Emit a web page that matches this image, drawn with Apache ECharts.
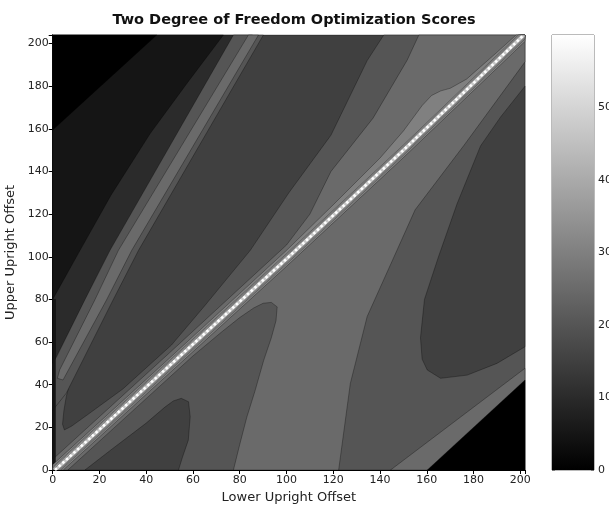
<!DOCTYPE html>
<html><head><meta charset="utf-8">
<script src="https://cdn.jsdelivr.net/npm/echarts@6/dist/echarts.min.js"></script>
<style>html,body{margin:0;padding:0;background:#fff}#c{width:609px;height:506px}</style>
</head><body><div id="c"></div>
<script>
// ---- chart text ----
const chartTitle = 'Two Degree of Freedom Optimization Scores';
const xName = 'Lower Upright Offset';
const yName = 'Upper Upright Offset';
// ---- axes ----
const xRange = [0, 202];
const yRange = [0, 204];
const tickStep = 20;
const scoreRange = [0, 60];
const scoreTickStep = 10;

// ---- contour regions (outline vertices [lower offset, upper offset]) ----
const plotFrame = [[0,0],[202,0],[202,204],[0,204]];
const midBand = [[141.6,204],[134.5,192],[119,157],[101,130],[84.5,103],[65,77],[50.8,58.6],[30,38],[15,26],[8,20.5],[5,18.8],[4.2,21.5],[4.8,28],[5.8,34.4],[8,44],[0,44],[0,0],[202,0],[202,204]];
const ridgeShoulder = [[0,5],[50,55],[100,105.5],[110,120],[119,140],[137,165],[151.6,192.2],[156.6,204],[202,204],[202,191.4],[176,152.4],[155,122],[146,100],[134.5,72],[127.3,40.6],[122.3,0],[0,0]];
const lowerFinger = [[6.5,0],[30,23.5],[60,53.5],[72,64.5],[80,71.5],[86,76],[90,78.2],[93.5,78.6],[96,76.5],[95.5,70],[93.5,62],[90.2,51.3],[86.5,37],[83,24.7],[80,12],[77.3,0]];
const lowerPocket = [[13.8,0],[25,9.5],[40,22],[48,29.5],[51.6,32.4],[55,33.6],[58.1,32],[58.8,25],[58,14],[55.5,6],[53.8,0]];
const rightPocket = [[202,57.8],[190,50],[177.3,44.5],[165.9,43],[160.2,46.9],[158,52],[157.3,62],[159,80],[165,100],[173,125],[183,152],[191.6,165.6],[202,180]];
const cornerRim = [[144.5,0],[202,47.7],[202,0]];
const cornerLow = [[160.2,0],[202,42.2],[202,0]];
const upperLeftBand = [[0,41],[30.5,103],[85.5,204],[0,204]];
const upperLeftDark = [[0,80],[11.7,103],[25,129],[41.7,157.8],[57.4,181.3],[73,204],[0,204]];
const upperLeftCorner = [[0,159.4],[13,172.5],[30,189.5],[44.5,204],[0,204]];
const sideRidgeOuter = [[77.3,204],[24.5,103],[13.7,79.7],[1.6,53],[0,50],[0,28],[5.8,36],[25.8,79.7],[36.7,103],[90.1,204]];
const sideRidgeInner = [[83.7,204],[28.1,103],[18,79.7],[3,47],[2,43],[4.4,42.2],[23,79.7],[33.8,103],[88,204]];
const leftEdgeStrip = [[0,0],[1.2,0],[1.2,80],[0,80]];
const ridgeLens = [[0,2.5],[50,52.5],[100,103],[120,124.4],[140,146.3],[150,159],[158,170.9],[162,175.6],[166,177.8],[170,179],[177,183.3],[190,195.9],[198.2,204],[202,204],[202,201],[150,146.5],[100,95.5],[4.5,0],[0,0]];
const ridgeBand35 = [[0,1.4],[100,101.4],[150,152.4],[199.1,204],[202,204],[202,202.1],[150,147.6],[100,96.6],[3.4,0],[0,0]];
const ridgeBand40 = [[0,0.8],[100,100.8],[150,151.8],[199.7,204],[202,204],[202,202.7],[150,148.2],[100,97.2],[2.8,0],[0,0]];
const ridgeCore = [[-0.3,0],[100,100.3],[150,151.3],[200.2,204],[202,204],[202,203.2],[150,148.7],[100,97.7],[2.3,0]];
const ridgeCenter = [[1,0],[100,99],[150,150],[201.5,204]];

// paint order and contour level of each region
const regions = [
  {level: 15, pts: plotFrame},
  {level: 20, pts: midBand},
  {level: 25, pts: ridgeShoulder},
  {level: 20, pts: lowerFinger},
  {level: 15, pts: lowerPocket},
  {level: 15, pts: rightPocket},
  {level: 25, pts: cornerRim},
  {level: 0,  pts: cornerLow},
  {level: 10, pts: upperLeftBand},
  {level: 5,  pts: upperLeftDark},
  {level: 0,  pts: upperLeftCorner},
  {level: 20, pts: sideRidgeOuter},
  {level: 25, pts: sideRidgeInner},
  {level: 5,  pts: leftEdgeStrip},
  {level: 30, pts: ridgeLens},
  {level: 35, pts: ridgeBand35},
  {level: 40, pts: ridgeBand40},
  {level: 47, pts: ridgeCore}
];

function gray(v) {
  const t = Math.max(0, Math.min(1, (v - scoreRange[0]) / (scoreRange[1] - scoreRange[0])));
  const c = Math.round(t * 255);
  return 'rgb(' + c + ',' + c + ',' + c + ')';
}

const font = 'DejaVu Sans';
const txt = '#222';
const chart = echarts.init(document.getElementById('c'), null, {renderer: 'canvas'});
chart.setOption({
  animation: false,
  backgroundColor: '#fff',
  title: {
    text: chartTitle, left: 289, top: 8, textAlign: 'center',
    textStyle: {fontSize: 14.5, fontWeight: 'bold', fontFamily: font, color: '#111'}
  },
  grid: [
    {left: 52.7, right: 84, top: 35, bottom: 36, show: false, containLabel: false, outerBoundsMode: 'none'},
    {left: 552, width: 42, top: 35, bottom: 36, show: true, borderColor: '#777', borderWidth: 1,
     backgroundColor: 'transparent', containLabel: false, outerBoundsMode: 'none'}
  ],
  xAxis: [
    {gridIndex: 0, type: 'value', min: xRange[0], max: xRange[1], interval: tickStep, position: 'bottom',
     name: xName, nameLocation: 'middle', nameGap: 21,
     nameTextStyle: {fontSize: 13, fontFamily: font, color: txt},
     axisLine: {show: true, lineStyle: {color: '#000', width: 1}},
     axisTick: {show: true, inside: true, length: 4, lineStyle: {color: '#000'}},
     axisLabel: {fontSize: 11, fontFamily: font, color: txt, margin: 5, showMaxLabel: false},
     splitLine: {show: false}},
    {gridIndex: 0, type: 'value', min: xRange[0], max: xRange[1], interval: tickStep, position: 'top',
     axisLine: {show: true, lineStyle: {color: '#000', width: 1}},
     axisTick: {show: true, inside: true, length: 4, lineStyle: {color: '#000'}},
     axisLabel: {show: false}, splitLine: {show: false}},
    {gridIndex: 1, type: 'category', data: [''], show: false}
  ],
  yAxis: [
    {gridIndex: 0, type: 'value', min: yRange[0], max: yRange[1], interval: tickStep, position: 'left',
     name: yName, nameLocation: 'middle', nameGap: 34, nameRotate: 90,
     nameTextStyle: {fontSize: 13, fontFamily: font, color: txt},
     axisLine: {show: true, lineStyle: {color: '#000', width: 1}},
     axisTick: {show: true, inside: true, length: 4, lineStyle: {color: '#000'}},
     axisLabel: {fontSize: 11, fontFamily: font, color: txt, margin: 4, showMaxLabel: false},
     splitLine: {show: false}},
    {gridIndex: 0, type: 'value', min: yRange[0], max: yRange[1], interval: tickStep, position: 'right',
     axisLine: {show: true, lineStyle: {color: '#000', width: 1}},
     axisTick: {show: true, inside: true, length: 4, lineStyle: {color: '#000'}},
     axisLabel: {show: false}, splitLine: {show: false}},
    {gridIndex: 1, type: 'value', min: scoreRange[0], max: scoreRange[1], interval: scoreTickStep, position: 'right',
     axisLine: {show: false},
     axisTick: {show: true, inside: true, length: 3, lineStyle: {color: '#777'}},
     axisLabel: {fontSize: 11, fontFamily: font, color: txt, margin: 4, showMaxLabel: false, hideOverlap: false},
     splitLine: {show: false}},
    {gridIndex: 1, type: 'value', min: scoreRange[0], max: scoreRange[1], interval: scoreTickStep, position: 'left',
     axisLine: {show: false},
     axisTick: {show: true, inside: true, length: 3, lineStyle: {color: '#777'}},
     axisLabel: {show: false}, splitLine: {show: false}}
  ],
  series: [
    {
      type: 'custom', xAxisIndex: 0, yAxisIndex: 0, silent: true, z: 2,
      data: regions.map(function (r) { return [r.level]; }),
      encode: {x: -1, y: -1},
      renderItem: function (params, api) {
        const r = regions[params.dataIndex];
        const cs = params.coordSys;
        const pts = r.pts.map(function (p) {
          const c = api.coord(p);
          return [Math.min(Math.max(c[0], cs.x), cs.x + cs.width), Math.min(Math.max(c[1], cs.y), cs.y + cs.height)];
        });
        return {type: 'polygon', shape: {points: pts},
          style: {fill: gray(r.level), stroke: 'rgba(0,0,0,0.5)', lineWidth: 0.6}};
      }
    },
    {
      type: 'line', xAxisIndex: 0, yAxisIndex: 0, data: ridgeCenter, showSymbol: false, silent: true, z: 5,
      lineStyle: {color: '#fff', width: 2.6, type: [2.5, 2.5]}
    },
    {
      type: 'bar', xAxisIndex: 2, yAxisIndex: 2, data: [scoreRange[1]], barWidth: '100%', silent: true,
      itemStyle: {color: new echarts.graphic.LinearGradient(0, 0, 0, 1, [{offset: 0, color: '#fff'}, {offset: 1, color: '#000'}])}
    }
  ]
});
</script>
</body></html>
